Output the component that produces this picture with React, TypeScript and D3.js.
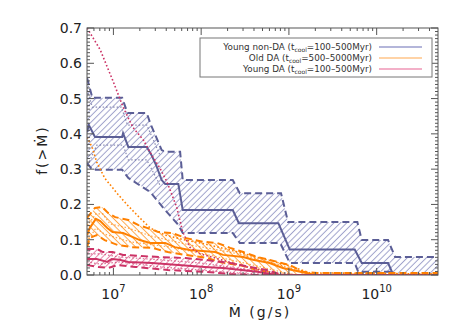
import * as d3 from 'd3'
import { useEffect, useRef } from 'react'

const W = 465, H = 332
const left = 87, right = 438, top = 28, bottom = 275

// [log10 Mdot (g/s), f(>Mdot)]
const nonDAMed = [[6.70,0.405],[6.72,0.425],[6.79,0.391],[7.10,0.391],[7.11,0.402],[7.17,0.363],[7.38,0.363],[7.44,0.337],[7.49,0.309],[7.55,0.269],[7.59,0.258],[7.74,0.258],[7.79,0.184],[8.36,0.184],[8.43,0.147],[8.88,0.147],[9.01,0.072],[9.75,0.072],[9.83,0.034],[10.13,0.034],[10.19,0],[10.70,0]]
const nonDAHi = [[6.70,0.558],[6.76,0.502],[7.10,0.502],[7.16,0.459],[7.38,0.459],[7.42,0.43],[7.55,0.354],[7.59,0.349],[7.76,0.349],[7.79,0.269],[8.36,0.269],[8.44,0.232],[8.91,0.232],[8.99,0.150],[9.78,0.150],[9.83,0.099],[10.13,0.099],[10.21,0.051],[10.70,0.051]]
const nonDALo = [[6.70,0.317],[6.76,0.298],[7.10,0.298],[7.17,0.275],[7.42,0.235],[7.59,0.184],[7.74,0.142],[7.79,0.119],[8.36,0.119],[8.44,0.091],[8.90,0.091],[9.01,0.034],[9.75,0.034],[9.79,0.009],[10.15,0.009],[10.21,0],[10.70,0]]
const nonDAHi1 = [[6.70,0.524],[6.76,0.476],[7.09,0.476],[7.16,0.425],[7.38,0.425],[7.53,0.340]]
const nonDALo1 = [[6.71,0.312],[6.81,0.368],[7.11,0.368],[7.17,0.326],[7.38,0.326],[7.53,0.255]]

const oldDAMed = [[6.70,0.113],[6.73,0.133],[6.80,0.159],[6.85,0.153],[6.93,0.133],[6.99,0.122],[7.11,0.119],[7.19,0.111],[7.30,0.099],[7.42,0.091],[7.59,0.091],[7.70,0.079],[7.87,0.071],[8.16,0.065],[8.25,0.057],[8.48,0.051],[8.59,0.043],[8.78,0.034],[8.93,0.020],[9.13,0.009],[9.30,0],[10.70,0]]
const oldDAHi = [[6.70,0.162],[6.79,0.190],[6.87,0.193],[6.94,0.176],[7.02,0.164],[7.17,0.156],[7.28,0.142],[7.39,0.133],[7.51,0.122],[7.67,0.119],[7.82,0.105],[8.02,0.094],[8.18,0.091],[8.33,0.077],[8.48,0.065],[8.64,0.051],[8.78,0.043],[9.01,0.028],[9.16,0.009],[9.32,0.006],[10.70,0.006]]
const oldDALo = [[6.70,0.079],[6.73,0.105],[6.81,0.113],[6.90,0.099],[7.05,0.085],[7.21,0.079],[7.44,0.077],[7.62,0.065],[7.82,0.057],[8.07,0.048],[8.25,0.034],[8.44,0.028],[8.64,0.014],[8.78,0.009],[8.90,0],[10.70,0]]
const oldDAHi1 = [[6.70,0.139],[6.80,0.173],[6.88,0.173],[6.96,0.145],[7.17,0.133],[7.42,0.111],[7.87,0.085],[8.33,0.065],[8.78,0.037],[9.13,0.011],[9.30,0]]
const oldDALo1 = [[6.70,0.094],[6.80,0.133],[6.90,0.116],[7.19,0.094],[7.65,0.079],[7.99,0.062],[8.44,0.037],[8.78,0.017],[9.01,0.003],[9.10,0]]
const oldDAAlt = [[6.70,0.391],[6.76,0.360],[6.81,0.320],[6.90,0.275],[7.04,0.232],[7.16,0.198],[7.30,0.162],[7.42,0.133],[7.59,0.113],[7.82,0.099],[8.04,0.088],[8.33,0.071],[8.67,0.048],[9.01,0.026],[9.24,0.006],[10.70,0.003]]

const youngDAMed = [[6.70,0.045],[6.81,0.045],[6.93,0.037],[6.98,0.045],[7.07,0.043],[7.17,0.037],[7.44,0.034],[7.74,0.028],[8.04,0.023],[8.25,0.020],[8.64,0.009],[8.86,0],[10.70,0]]
const youngDAHi = [[6.70,0.074],[6.81,0.074],[6.88,0.065],[6.99,0.065],[7.11,0.057],[7.30,0.054],[7.53,0.051],[7.82,0.048],[8.04,0.043],[8.33,0.034],[8.56,0.023],[8.75,0.014],[8.93,0],[10.70,0]]
const youngDALo = [[6.70,0.028],[6.83,0.023],[6.94,0.020],[7.05,0.028],[7.25,0.023],[7.62,0.014],[8.04,0.009],[8.33,0.003],[8.56,0],[10.70,0]]
const youngDAHi1 = [[6.70,0.060],[6.85,0.060],[7.07,0.051],[7.53,0.043],[7.99,0.034],[8.56,0.014],[8.90,0]]
const youngDALo1 = [[6.70,0.037],[6.85,0.031],[7.07,0.037],[7.53,0.023],[7.99,0.014],[8.56,0.003],[8.78,0]]
const youngDAAlt = [[6.70,0.700],[6.85,0.638],[6.99,0.553],[7.11,0.476],[7.22,0.419],[7.34,0.383],[7.45,0.334],[7.53,0.303],[7.61,0.264],[7.72,0.193],[7.79,0.122],[7.87,0.079],[7.99,0.060],[8.16,0.048],[8.44,0.028],[8.67,0.014],[8.90,0.003],[9.13,0]]

const xTicks = [7, 8, 9, 10]
const yTicks = [0, 0.1, 0.2, 0.3, 0.4, 0.5, 0.6, 0.7]
const legendNames = ['Young non-DA (t', 'Old DA (t', 'Young DA (t']
const legendRanges = ['=100\u2013500Myr)', '=500\u20135000Myr)', '=100\u2013500Myr)']
const legendColors = ['#b4b6da', '#ffd3a6', '#f3b0c8']

const groups = [
  { id: 'hb', color: '#5b5e96', hatch: '#9fa2cb', angle: 45, med: nonDAMed, hi: nonDAHi, lo: nonDALo, hi1: nonDAHi1, lo1: nonDALo1, alt: null },
  { id: 'ho', color: '#ff8000', hatch: '#ffa84d', angle: -45, med: oldDAMed, hi: oldDAHi, lo: oldDALo, hi1: oldDAHi1, lo1: oldDALo1, alt: oldDAAlt },
  { id: 'hm', color: '#cc3366', hatch: '#e585a8', angle: 45, med: youngDAMed, hi: youngDAHi, lo: youngDALo, hi1: youngDAHi1, lo1: youngDALo1, alt: youngDAAlt },
]

function draw(el: SVGSVGElement) {
  const svg = d3.select(el)
  svg.selectAll('*').remove()

  const x = d3.scaleLog().domain([5e6, 5e10]).range([left, right])
  const y = d3.scaleLinear().domain([0, 0.7]).range([bottom, top])
  const line = d3.line<number[]>().x(d => x(10 ** d[0])).y(d => y(d[1]))

  const defs = svg.append('defs')
  defs.append('clipPath').attr('id', 'plotclip')
    .append('rect').attr('x', left).attr('y', top).attr('width', right - left).attr('height', bottom - top)

  groups.forEach(g => {
    defs.append('pattern').attr('id', g.id)
      .attr('patternUnits', 'userSpaceOnUse').attr('width', 4.5).attr('height', 4.5)
      .attr('patternTransform', `rotate(${g.angle})`)
      .append('line').attr('x1', 2.25).attr('y1', -1).attr('x2', 2.25).attr('y2', 5.5)
      .attr('stroke', g.hatch).attr('stroke-width', 1)
  })

  const plot = svg.append('g').attr('clip-path', 'url(#plotclip)')

  groups.forEach(g => {
    const poly = g.hi.concat(g.lo.slice().reverse())
    plot.append('path').attr('d', line(poly) + 'Z').attr('fill', `url(#${g.id})`).attr('stroke', 'none')
    ;[g.hi1, g.lo1].forEach(s => {
      plot.append('path').attr('d', line(s)).attr('fill', 'none')
        .attr('stroke', g.color).attr('stroke-width', 1.2).attr('stroke-dasharray', '1.5,2').attr('opacity', 0.7)
    })
    ;[g.hi, g.lo].forEach(s => {
      plot.append('path').attr('d', line(s)).attr('fill', 'none')
        .attr('stroke', g.color).attr('stroke-width', 2).attr('stroke-dasharray', '7,4')
    })
    plot.append('path').attr('d', line(g.med)).attr('fill', 'none')
      .attr('stroke', g.color).attr('stroke-width', 2)
  })
  groups.forEach(g => {
    if (g.alt) plot.append('path').attr('d', line(g.alt)).attr('fill', 'none')
      .attr('stroke', g.color).attr('stroke-width', 1.6).attr('stroke-dasharray', '1.6,2.2')
  })

  // frame and ticks
  const ax = svg.append('g').attr('stroke', '#555').attr('stroke-width', 1)
  ax.append('rect').attr('x', left).attr('y', top).attr('width', right - left).attr('height', bottom - top)
    .attr('fill', 'none')

  const minorX: number[] = []
  for (let dec = 6; dec <= 10; dec++) for (let k = 2; k <= 9; k++) {
    const v = k * 10 ** dec
    if (v > 5e6 && v < 5e10) minorX.push(v)
  }
  minorX.forEach(v => {
    ax.append('line').attr('x1', x(v)).attr('x2', x(v)).attr('y1', bottom).attr('y2', bottom - 3)
    ax.append('line').attr('x1', x(v)).attr('x2', x(v)).attr('y1', top).attr('y2', top + 3)
  })
  xTicks.forEach(p => {
    const v = 10 ** p
    ax.append('line').attr('x1', x(v)).attr('x2', x(v)).attr('y1', bottom).attr('y2', bottom - 7)
    ax.append('line').attr('x1', x(v)).attr('x2', x(v)).attr('y1', top).attr('y2', top + 7)
  })
  d3.range(0, 71).forEach(i => {
    const v = i / 100
    const len = i % 10 === 0 ? 7 : 3
    ax.append('line').attr('x1', left).attr('x2', left + len).attr('y1', y(v)).attr('y2', y(v))
    ax.append('line').attr('x1', right).attr('x2', right - len).attr('y1', y(v)).attr('y2', y(v))
  })

  const font = 'DejaVu Sans, sans-serif'
  const labels = svg.append('g').attr('fill', '#222').attr('font-family', font)

  yTicks.forEach(v => {
    labels.append('text').attr('x', left - 5).attr('y', y(v) + 5).attr('text-anchor', 'end')
      .attr('font-size', 14).text(v.toFixed(1))
  })
  xTicks.forEach(p => {
    const t = labels.append('text').attr('x', x(10 ** p)).attr('y', bottom + 24).attr('text-anchor', 'middle')
      .attr('font-size', 14)
    t.append('tspan').text('10')
    t.append('tspan').attr('dy', -7).attr('font-size', 10).text(String(p))
  })

  labels.append('text').attr('x', 260).attr('y', 317).attr('text-anchor', 'middle')
    .attr('font-size', 14).attr('letter-spacing', 2).text('\u1E40 (g/s)')
  labels.append('text').attr('transform', 'translate(47,150) rotate(-90)').attr('text-anchor', 'middle')
    .attr('font-size', 14).attr('letter-spacing', 2).text('f(>\u1E40)')

  // legend
  const lg = svg.append('g').attr('font-family', font)
  lg.append('rect').attr('x', 200).attr('y', 38).attr('width', 232).attr('height', 39)
    .attr('fill', 'white').attr('stroke', '#777').attr('stroke-width', 1)
  legendNames.forEach((name, i) => {
    const yy = 47 + i * 11
    const t = lg.append('text').attr('x', 372).attr('y', yy + 3).attr('text-anchor', 'end')
      .attr('font-size', 8.8).attr('fill', '#333')
    t.append('tspan').text(name)
    t.append('tspan').attr('dy', 2).attr('font-size', 6).text('cool')
    t.append('tspan').attr('dy', -2).text(legendRanges[i])
    lg.append('line').attr('x1', 379).attr('x2', 422).attr('y1', yy).attr('y2', yy)
      .attr('stroke', legendColors[i]).attr('stroke-width', 2)
  })
}

function App() {
  const ref = useRef<SVGSVGElement>(null)
  useEffect(() => {
    if (ref.current) draw(ref.current)
  }, [])
  return (
    <svg ref={ref} width={W} height={H} style={{ position: 'absolute', left: 0, top: 0, background: 'white' }} />
  )
}

export default App
